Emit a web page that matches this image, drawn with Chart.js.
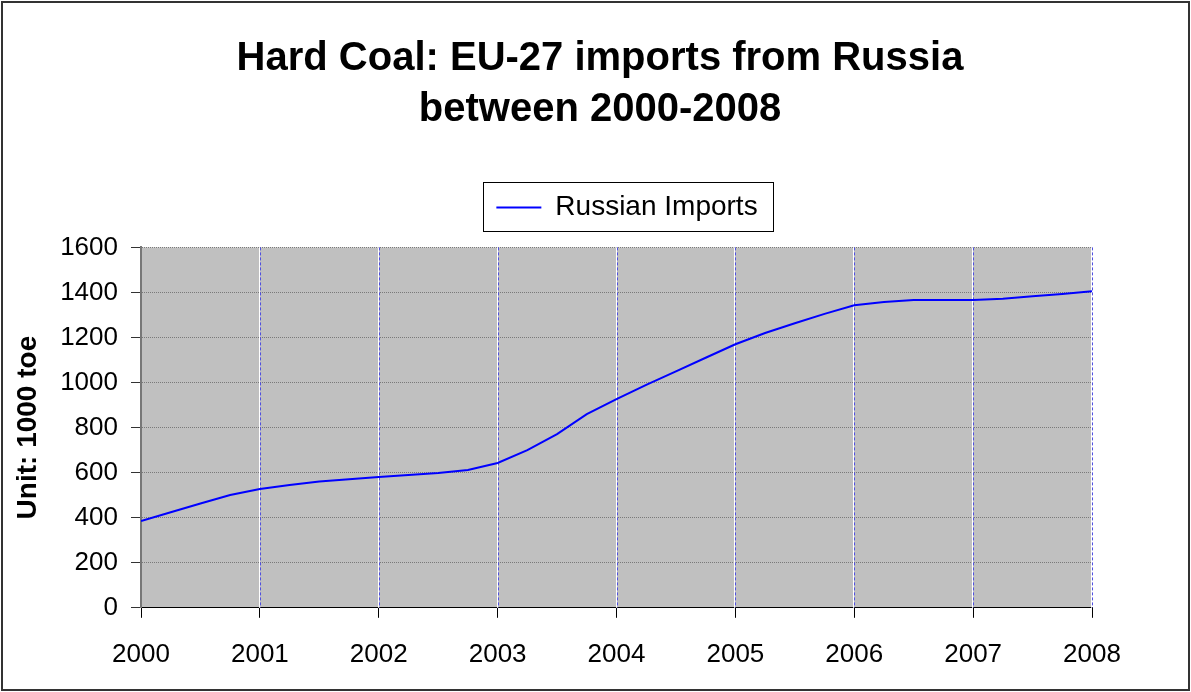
<!DOCTYPE html>
<html>
<head>
<meta charset="utf-8">
<script src="https://cdn.jsdelivr.net/npm/chart.js@4"></script>
<style>
  html, body { margin: 0; padding: 0; background: #fff; }
  #wrap { width: 1191px; height: 692px; }
</style>
</head>
<body>
<div id="wrap"><canvas id="myChart"></canvas></div>
<script>
// quarterly points
const quarters = [2000, 2000.25, 2000.5, 2000.75, 2001, 2001.25, 2001.5, 2001.75,
                  2002, 2002.25, 2002.5, 2002.75, 2003, 2003.25, 2003.5, 2003.75,
                  2004, 2004.25, 2004.5, 2004.75, 2005, 2005.25, 2005.5, 2005.75,
                  2006, 2006.25, 2006.5, 2006.75, 2007, 2007.25, 2007.5, 2007.75, 2008];
const russianImports = [385, 424, 463, 501, 527, 545, 561, 571,
                        581, 590, 598, 612, 643, 700, 771, 860,
                        926, 990, 1050, 1110, 1170, 1220, 1263, 1305,
                        1343, 1358, 1366, 1366, 1366, 1372, 1383, 1393, 1405];
const titleLines = ['Hard Coal: EU-27 imports from Russia', 'between 2000-2008'];
const seriesName = 'Russian Imports';
const yTitle = 'Unit: 1000 toe';

const font = 'Arial, "Liberation Sans", sans-serif';
const legendSize = 28, legendPad = 10;

// white page with frame, grey plot area, Excel-ish vertical grid
const decor = {
  id: 'decor',
  afterLayout(chart) {
    // title and legend sit a bit right of the layout centre in the original
    const t = chart.titleBlock, l = chart.legend;
    t.left += 50; t.right += 50;
    const dx = 77, dy = -16;
    l.left += dx; l.right += dx; l.top += dy; l.bottom += dy;
    l.legendHitBoxes.forEach(h => { h.left += dx; });
  },
  beforeDraw(chart) {
    const c = chart.ctx, a = chart.chartArea;
    c.save();
    c.fillStyle = '#fff';
    c.fillRect(0, 0, chart.width, chart.height);
    c.strokeStyle = '#333';
    c.lineWidth = 2;
    c.strokeRect(2, 2, chart.width - 4, chart.height - 4);
    c.fillStyle = '#c0c0c0';
    c.fillRect(a.left, a.top, a.right - a.left, a.bottom - a.top);
    c.restore();
  },
  beforeDatasetsDraw(chart) {
    const c = chart.ctx, a = chart.chartArea, xs = chart.scales.x;
    c.save();
    xs.ticks.forEach(t => {
      const px = Math.round(xs.getPixelForValue(t.value));
      if (t.value === 2000) return;
      c.lineWidth = 1;
      c.setLineDash([]);
      c.strokeStyle = '#ffffff';
      c.beginPath(); c.moveTo(px - 0.5, a.top); c.lineTo(px - 0.5, a.bottom); c.stroke();
      c.strokeStyle = '#5050e0';
      c.setLineDash([3, 2]);
      c.beginPath(); c.moveTo(px + 0.5, a.top); c.lineTo(px + 0.5, a.bottom); c.stroke();
    });
    c.restore();
  },
  afterDraw(chart) {
    const lg = chart.legend;
    if (!lg || !lg.legendHitBoxes.length) return;
    const hb = lg.legendHitBoxes[0];
    const mid = lg.top + legendPad + legendSize / 2;
    const c = chart.ctx;
    c.save();
    c.strokeStyle = '#000';
    c.lineWidth = 1;
    c.strokeRect(Math.round(hb.left - 13) + 0.5, Math.round(mid - 25) + 0.5,
                 Math.round(hb.width + 29), 49);
    c.restore();
  }
};

new Chart(document.getElementById('myChart'), {
  type: 'line',
  data: {
    datasets: [{
      label: seriesName,
      data: quarters.map((q, i) => ({ x: q, y: russianImports[i] })),
      borderColor: '#0000ff',
      backgroundColor: '#0000ff',
      borderWidth: 2,
      pointRadius: 0,
      tension: 0,
      fill: false
    }]
  },
  options: {
    responsive: true,
    maintainAspectRatio: false,
    animation: false,
    layout: { padding: { left: 8, right: 99, top: 0, bottom: 1 } },
    plugins: {
      title: {
        display: true,
        text: titleLines,
        color: '#000',
        font: { family: font, size: 40, weight: 'bold', lineHeight: 1.28 },
        padding: { top: 33, bottom: 64 }
      },
      legend: {
        display: true,
        labels: {
          color: '#000',
          font: { family: font, size: legendSize },
          usePointStyle: true,
          pointStyle: 'line',
          pointStyleWidth: 45,
          boxWidth: 45,
          padding: legendPad
        }
      },
      tooltip: { enabled: false }
    },
    scales: {
      x: {
        type: 'linear',
        min: 2000,
        max: 2008,
        ticks: {
          stepSize: 1,
          color: '#000',
          font: { family: font, size: 26 },
          padding: 21,
          maxRotation: 0,
          callback: v => String(v)
        },
        grid: { drawOnChartArea: false, drawTicks: true, tickLength: 10, tickColor: '#000' },
        border: { color: '#000', width: 1 }
      },
      y: {
        min: 0,
        max: 1600,
        ticks: {
          stepSize: 200,
          color: '#000',
          font: { family: font, size: 26 },
          padding: 13,
          callback: v => String(v)
        },
        grid: {
          color: '#7a7a7a',
          tickColor: '#333',
          tickBorderDash: [],
          tickLength: 10
        },
        border: { color: '#777', width: 2, dash: [1, 1] },
        title: {
          display: true,
          text: yTitle,
          color: '#000',
          font: { family: font, size: 28, weight: 'bold' },
          padding: { top: 3, bottom: 0 }
        },
        afterFit(scale) { scale.width = 133; }
      }
    }
  },
  plugins: [decor]
});
</script>
</body>
</html>
